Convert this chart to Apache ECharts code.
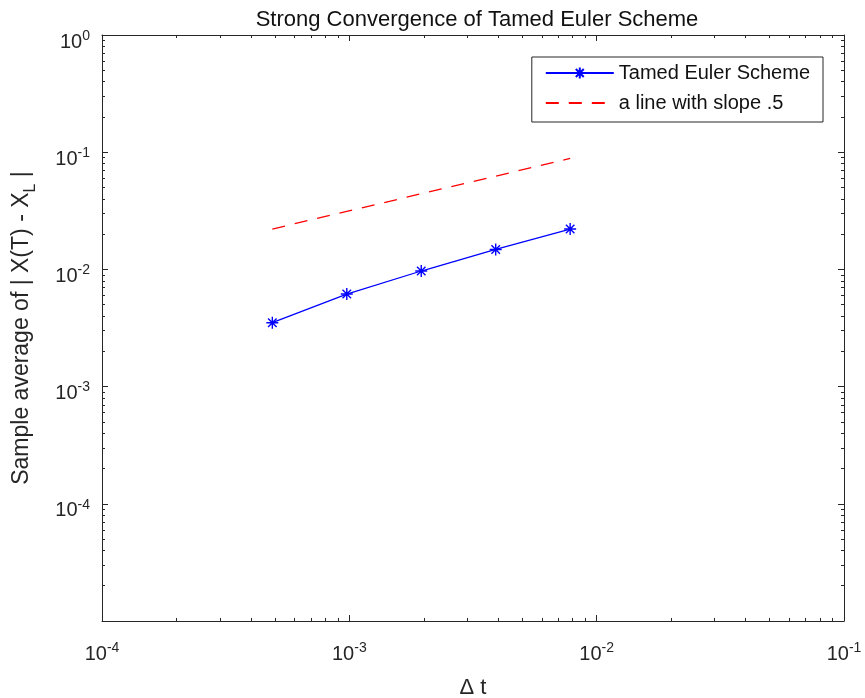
<!DOCTYPE html>
<html>
<head>
<meta charset="utf-8">
<script src="https://cdn.jsdelivr.net/npm/echarts@6/dist/echarts.min.js"></script>
<style>html,body{margin:0;padding:0;background:#fff}#c{width:865px;height:698px}</style>
</head>
<body>
<div id="c"></div>
<script>
// ---- data ----
const dt = [0.00048828125, 0.0009765625, 0.001953125, 0.00390625, 0.0078125];
const tamedErr = [0.00351, 0.00616, 0.00969, 0.0148, 0.0221];
const slopeLine = [0.0221, 0.03125, 0.0442, 0.0625, 0.0884];
const seriesNames = ['Tamed Euler Scheme', 'a line with slope .5'];
const xMajorTicks = [1e-4, 1e-3, 1e-2, 1e-1];
const xTickExps = ['-4', '-3', '-2', '-1'];
const yMajorTicks = [1e-5, 1e-4, 1e-3, 1e-2, 1e-1, 1];
const yTickExps = ['', '-4', '-3', '-2', '-1', '0'];
const titleText = 'Strong Convergence of Tamed Euler Scheme';

// minor tick positions (2..9 within each decade)
function minors(lo, hi) {
  const out = [];
  for (let e = lo; e < hi; e++) for (let m = 2; m <= 9; m++) out.push(m * Math.pow(10, e));
  return out;
}
const xMinorTicks = minors(-4, -1);
const yMinorTicks = minors(-5, 0);

const axisCol = '#262626';
const FF = 'Liberation Sans';
const rich = {
  b: {fontSize: 20, lineHeight: 20, verticalAlign: 'bottom', color: axisCol, fontFamily: FF},
  s: {fontSize: 14, lineHeight: 14, padding: [0, 0, 12, 0], color: axisCol, fontFamily: FF}
};
function fmt(ticks, exps) {
  return function (v) {
    for (let i = 0; i < ticks.length; i++) {
      if (Math.abs(Math.log10(v) - Math.log10(ticks[i])) < 1e-6) {
        return exps[i] === '' ? '' : '{b|10}{s|' + exps[i] + '}';
      }
    }
    return '';
  };
}

function xAx(pos, ticks, len, showLine, showLabel) {
  return {
    type: 'log', logBase: 10, min: 1e-4, max: 1e-1, position: pos, gridIndex: 0,
    axisLine: {show: showLine, lineStyle: {color: axisCol, width: 1}},
    axisTick: {show: true, inside: true, length: len, customValues: ticks, lineStyle: {color: axisCol, width: 1}},
    axisLabel: {show: showLabel, customValues: xMajorTicks, formatter: fmt(xMajorTicks, xTickExps), rich: rich, margin: 23},
    splitLine: {show: false}, minorTick: {show: false}
  };
}
function yAx(pos, ticks, len, showLine, showLabel) {
  return {
    type: 'log', logBase: 10, min: 1e-5, max: 1, position: pos, gridIndex: 0,
    axisLine: {show: showLine, lineStyle: {color: axisCol, width: 1}},
    axisTick: {show: true, inside: true, length: len, customValues: ticks, lineStyle: {color: axisCol, width: 1}},
    axisLabel: {show: showLabel, customValues: yMajorTicks, formatter: fmt(yMajorTicks, yTickExps), rich: rich, margin: 12, padding: [14, 0, 0, 0]},
    splitLine: {show: false}, minorTick: {show: false}
  };
}

const xAxes = [
  xAx('bottom', xMajorTicks, 6, true, true),
  xAx('bottom', xMinorTicks, 3, false, false),
  xAx('top', xMajorTicks, 6, true, false),
  xAx('top', xMinorTicks, 3, false, false)
];
xAxes[0].name = '{m|\u0394 t}';
xAxes[0].nameLocation = 'middle';
xAxes[0].nameGap = 56;
xAxes[0].nameTextStyle = {rich: {m: {fontSize: 22, lineHeight: 22, color: axisCol, fontFamily: FF}}};

const yAxes = [
  yAx('left', yMajorTicks, 6, true, true),
  yAx('left', yMinorTicks, 3, false, false),
  yAx('right', yMajorTicks, 6, true, false),
  yAx('right', yMinorTicks, 3, false, false)
];
yAxes[0].name = '{m|Sample average of | X(T) - X}{sub|L}{m| |}';
yAxes[0].nameLocation = 'middle';
yAxes[0].nameRotate = 90;
yAxes[0].nameGap = 64;
yAxes[0].nameTextStyle = {rich: {
  m: {fontSize: 23, lineHeight: 28, verticalAlign: 'top', color: axisCol, fontFamily: FF},
  sub: {fontSize: 16, lineHeight: 16, padding: [13, 0, 0, 0], color: axisCol, fontFamily: FF}
}};

const starPath = 'path://M0,-10L0,10M-10,0L10,0M-7.07,-7.07L7.07,7.07M-7.07,7.07L7.07,-7.07';

const chart = echarts.init(document.getElementById('c'), null, {renderer: 'canvas'});
chart.setOption({
  backgroundColor: '#ffffff',
  animation: false,
  textStyle: {fontFamily: FF},
  title: {
    text: titleText, left: 472, textAlign: 'center', top: 4,
    textStyle: {fontSize: 22, fontWeight: 'normal', color: '#111', fontFamily: FF}
  },
  grid: {left: 102, right: 21, top: 35, bottom: 77, containLabel: false, outerBoundsMode: 'none'},
  xAxis: xAxes,
  yAxis: yAxes,
  legend: {
    orient: 'vertical', right: 42, top: 57,
    backgroundColor: '#fff', borderColor: axisCol, borderWidth: 1, borderRadius: 0,
    padding: [6, 13, 9, 13], itemGap: 10, itemWidth: 68, itemHeight: 14,
    textStyle: {fontSize: 20, lineHeight: 20, color: '#111', fontFamily: FF, padding: [0, 0, 0, 0]},
    data: [
      {name: seriesNames[0]},
      {name: seriesNames[1], itemStyle: {color: 'rgba(0,0,0,0)', borderColor: 'rgba(0,0,0,0)', borderWidth: 0}}
    ]
  },
  series: [
    {
      name: seriesNames[0], type: 'line', xAxisIndex: 0, yAxisIndex: 0,
      data: dt.map((x, i) => [x, tamedErr[i]]),
      lineStyle: {color: '#0000ff', width: 1.3},
      itemStyle: {color: '#0000ff', borderColor: '#0000ff', borderWidth: 1.4},
      symbol: starPath, symbolSize: 12
    },
    {
      name: seriesNames[1], type: 'line', xAxisIndex: 0, yAxisIndex: 0,
      data: dt.map((x, i) => [x, slopeLine[i]]),
      lineStyle: {color: '#ff0000', width: 1.3, type: [13, 10]},
      itemStyle: {color: '#ff0000'},
      symbol: 'none'
    }
  ]
});
</script>
</body>
</html>
